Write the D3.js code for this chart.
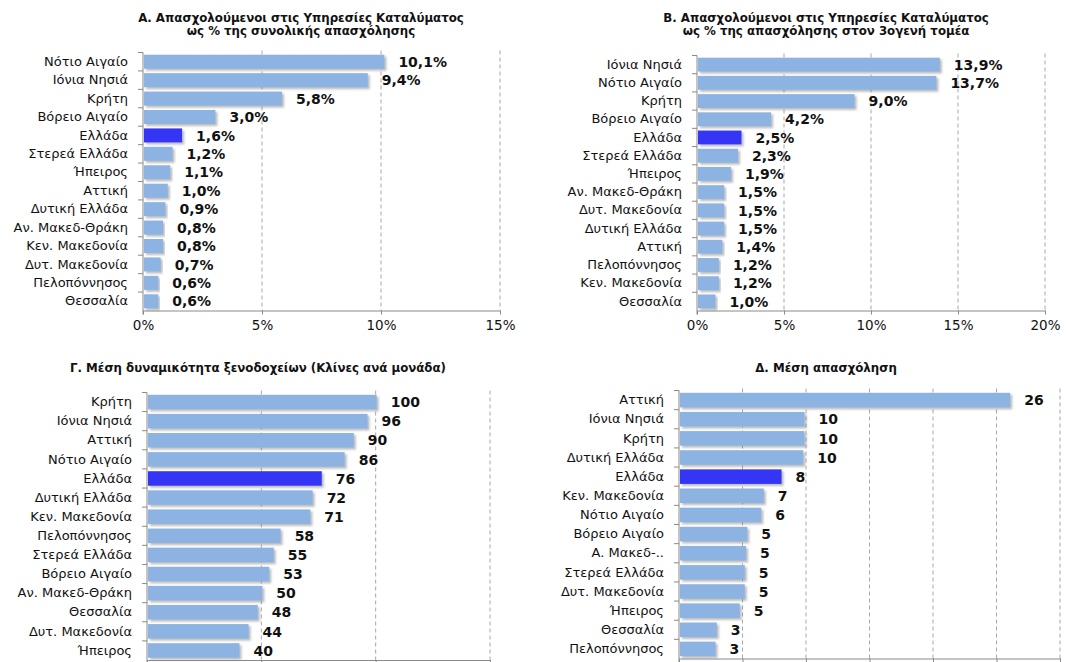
<!DOCTYPE html>
<html>
<head>
<meta charset="utf-8">
<script src="https://cdn.jsdelivr.net/npm/d3@7"></script>
<style>
  html, body { margin: 0; padding: 0; background: #ffffff; }
  svg { display: block; }
  text { font-family: "DejaVu Sans", Verdana, sans-serif; fill: #111; }
</style>
</head>
<body>
<svg id="chart" width="1091" height="662"></svg>
<script>
// ---------- DATA ----------
const titleA = ["Α. Απασχολούμενοι στις Υπηρεσίες Καταλύματος", "ως % της συνολικής απασχόλησης"];
const categoriesA = ["Νότιο Αιγαίο","Ιόνια Νησιά","Κρήτη","Βόρειο Αιγαίο","Ελλάδα","Στερεά Ελλάδα","Ήπειρος","Αττική","Δυτική Ελλάδα","Αν. Μακεδ-Θράκη","Κεν. Μακεδονία","Δυτ. Μακεδονία","Πελοπόννησος","Θεσσαλία"];
const valuesA = [10.1, 9.4, 5.8, 3.0, 1.6, 1.2, 1.1, 1.0, 0.9, 0.8, 0.8, 0.7, 0.6, 0.6];
const ticksA = [0, 5, 10, 15];
const tickLabelsA = ["0%", "5%", "10%", "15%"];

const titleB = ["Β. Απασχολούμενοι στις Υπηρεσίες Καταλύματος", "ως % της απασχόλησης στον 3ογενή τομέα"];
const categoriesB = ["Ιόνια Νησιά","Νότιο Αιγαίο","Κρήτη","Βόρειο Αιγαίο","Ελλάδα","Στερεά Ελλάδα","Ήπειρος","Αν. Μακεδ-Θράκη","Δυτ. Μακεδονία","Δυτική Ελλάδα","Αττική","Πελοπόννησος","Κεν. Μακεδονία","Θεσσαλία"];
const valuesB = [13.9, 13.7, 9.0, 4.2, 2.5, 2.3, 1.9, 1.5, 1.5, 1.5, 1.4, 1.2, 1.2, 1.0];
const ticksB = [0, 5, 10, 15, 20];
const tickLabelsB = ["0%", "5%", "10%", "15%", "20%"];

const titleC = ["Γ. Μέση δυναμικότητα ξενοδοχείων (Κλίνες ανά μονάδα)"];
const categoriesC = ["Κρήτη","Ιόνια Νησιά","Αττική","Νότιο Αιγαίο","Ελλάδα","Δυτική Ελλάδα","Κεν. Μακεδονία","Πελοπόννησος","Στερεά Ελλάδα","Βόρειο Αιγαίο","Αν. Μακεδ-Θράκη","Θεσσαλία","Δυτ. Μακεδονία","Ήπειρος"];
const valuesC = [100, 96, 90, 86, 76, 72, 71, 58, 55, 53, 50, 48, 44, 40];
const ticksC = [0, 50, 100, 150];

const titleD = ["Δ. Μέση απασχόληση"];
const categoriesD = ["Αττική","Ιόνια Νησιά","Κρήτη","Δυτική Ελλάδα","Ελλάδα","Κεν. Μακεδονία","Νότιο Αιγαίο","Βόρειο Αιγαίο","Α. Μακεδ-..","Στερεά Ελλάδα","Δυτ. Μακεδονία","Ήπειρος","Θεσσαλία","Πελοπόννησος"];
const valuesD = [26.0, 9.8, 9.8, 9.7, 8.0, 6.6, 6.4, 5.3, 5.2, 5.1, 5.1, 4.7, 2.9, 2.8];
const ticksD = [0, 5, 10, 15, 20, 25, 30];

const highlight = "Ελλάδα";

// ---------- DRAW ----------
const svg = d3.select("#chart");
const defs = svg.append("defs");
const f = defs.append("filter").attr("id", "shadow")
  .attr("x", "-5%").attr("y", "-30%").attr("width", "115%").attr("height", "170%");
f.append("feDropShadow").attr("dx", 2).attr("dy", 2).attr("stdDeviation", 1.3)
  .attr("flood-color", "#777").attr("flood-opacity", 0.5);

const pctFmt = v => d3.format(".1f")(v).replace(".", ",") + "%";
const intFmt = v => d3.format(".0f")(v);

function panel(o) {
  const g = svg.append("g");
  const x = d3.scaleLinear().domain(o.domain).range([o.x0, o.x1]);
  const y = d3.scaleBand().domain(o.categories).range([o.top, o.bottom])
    .paddingInner(0.24).paddingOuter(0.12);

  // title
  const t = g.append("text").attr("x", o.titleX).attr("y", o.titleY)
    .attr("text-anchor", "middle").style("font-size", "11.8px").style("font-weight", "bold");
  o.title.forEach((line, i) => {
    t.append("tspan").attr("x", o.titleX).attr("dy", i === 0 ? 0 : 12.5).text(line);
  });

  // gridlines
  g.append("g").selectAll("line").data(o.ticks.filter(d => d !== 0)).join("line")
    .attr("x1", d => x(d)).attr("x2", d => x(d))
    .attr("y1", o.top - 2).attr("y2", o.bottom)
    .attr("stroke", "#a8a8a8").attr("stroke-width", 1).attr("stroke-dasharray", "4,3");

  // bars
  const data = o.categories.map((c, i) => ({ c, v: o.values[i] }));
  g.append("g").selectAll("rect").data(data).join("rect")
    .attr("x", x(0) + 1).attr("y", d => y(d.c))
    .attr("width", d => x(d.v) - x(0)).attr("height", y.bandwidth())
    .attr("fill", d => d.c === highlight ? "#3535f6" : "#8db3e2")
    .attr("filter", "url(#shadow)");

  // value labels
  g.append("g").selectAll("text").data(data).join("text")
    .attr("x", d => x(d.v) + 15).attr("y", d => y(d.c) + y.bandwidth() / 2)
    .attr("dy", "0.37em").style("font-size", "14px").style("font-weight", "bold")
    .text(d => o.fmt(d.v));

  // bottom axis (tick labels only where the reference shows them)
  const xAxis = d3.axisBottom(x).tickValues(o.ticks)
    .tickFormat((d, i) => o.tickLabels ? o.tickLabels[i] : "")
    .tickSize(4).tickSizeOuter(0).tickPadding(6);
  const ax = g.append("g").attr("transform", `translate(0,${o.bottom})`).call(xAxis);
  ax.select(".domain").attr("stroke", "#8a8a8a");
  ax.selectAll(".tick line").attr("stroke", "#8a8a8a");
  ax.selectAll(".tick text").style("font-size", "13.5px").style("font-family", "DejaVu Sans, Verdana, sans-serif").attr("fill", "#222");
  if (!o.tickLabels) ax.selectAll(".tick text").remove();

  // left axis: category labels
  const yAxis = d3.axisLeft(y).tickSize(0).tickPadding(15);
  const ay = g.append("g").attr("transform", `translate(${o.x0},0)`).call(yAxis);
  ay.select(".domain").remove();
  ay.selectAll(".tick text").style("font-size", "13px").style("font-family", "DejaVu Sans, Verdana, sans-serif").attr("fill", "#111");

  // left axis line with boundary ticks
  g.append("line").attr("x1", o.x0).attr("x2", o.x0).attr("y1", o.top).attr("y2", o.bottom + 4)
    .attr("stroke", "#8a8a8a");
  const bounds = d3.range(o.categories.length).map(i => o.top + i * y.step());
  g.append("g").selectAll("line").data(bounds).join("line")
    .attr("x1", o.x0 - 5).attr("x2", o.x0).attr("y1", d => d).attr("y2", d => d)
    .attr("stroke", "#8a8a8a");
}

panel({ title: titleA, titleX: 301, titleY: 22, categories: categoriesA, values: valuesA,
  ticks: ticksA, tickLabels: tickLabelsA, domain: [0, 15], x0: 143, x1: 500, top: 52.5, bottom: 310.5, fmt: pctFmt });
panel({ title: titleB, titleX: 826, titleY: 22, categories: categoriesB, values: valuesB,
  ticks: ticksB, tickLabels: tickLabelsB, domain: [0, 20], x0: 697, x1: 1045, top: 55.5, bottom: 310.5, fmt: pctFmt });
panel({ title: titleC, titleX: 258, titleY: 372, categories: categoriesC, values: valuesC,
  ticks: ticksC, tickLabels: null, domain: [0, 150], x0: 147, x1: 490, top: 392.5, bottom: 660, fmt: intFmt });
panel({ title: titleD, titleX: 826, titleY: 372, categories: categoriesD, values: valuesD,
  ticks: ticksD, tickLabels: null, domain: [0, 30], x0: 679, x1: 1060, top: 390.5, bottom: 658.5, fmt: intFmt });
</script>
</body>
</html>
